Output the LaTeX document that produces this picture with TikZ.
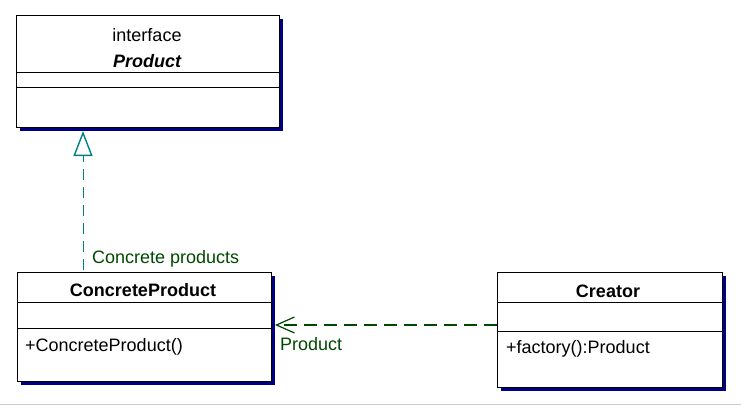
\documentclass[tikz,border=0pt]{standalone}
\usepackage{fontspec}
\setmainfont{Liberation Sans}
\usetikzlibrary{arrows.meta,shadows}
\definecolor{umlnavy}{RGB}{0,0,128}
\definecolor{umlgreen}{RGB}{0,72,0}
\definecolor{umlteal}{RGB}{0,128,128}

\begin{document}
\begin{tikzpicture}[x=1pt,y=-1pt,
  cls/.style={draw, line width=1pt, fill=white, inner sep=0pt, outer sep=0pt, anchor=north west, drop shadow={shadow xshift=4pt, shadow yshift=-4pt, fill=umlnavy, opacity=1}},
  txt/.style={inner sep=0pt, font=\fontsize{18}{21}\selectfont},
  lbl/.style={txt, text=umlgreen, anchor=west}]
  \useasboundingbox (0,0) rectangle (741,407);
  \node[cls, minimum width=263pt, minimum height=112pt] (product) at (16,15) {};
  \draw[line width=1pt] (16,72) -- (279,72); \draw[line width=1pt] (16,87) -- (279,87);
  \node[txt] (prodst) at (147,35) {interface}; \node[txt, font=\fontsize{18}{21}\selectfont\bfseries\itshape] (prodname) at (147,61) {Product};
  \node[cls, minimum width=254pt, minimum height=109pt] (cprod) at (17,272) {};
  \draw[line width=1pt] (17,302) -- (271,302); \draw[line width=1pt] (17,328) -- (271,328);
  \node[txt, font=\fontsize{18}{21}\selectfont\bfseries] (cprodname) at (143,290) {ConcreteProduct}; \node[txt, anchor=west] (cprodop) at (25,347) {+ConcreteProduct()};
  \node[cls, minimum width=225pt, minimum height=115pt] (creator) at (497,272) {};
  \draw[line width=1pt] (497,302) -- (722,302); \draw[line width=1pt] (497,331) -- (722,331);
  \node[txt, font=\fontsize{18}{21}\selectfont\bfseries] (creatorname) at (608,291) {Creator}; \node[txt, anchor=west] (creatorop) at (506,349) {+factory():Product};
  \coordinate (gen) at (83,270); \draw[umlteal, line width=1pt, dash pattern=on 11pt off 7pt, -{Triangle[open, length=25pt, width=19pt, line width=1.4pt]}, shorten >=4pt] (gen) -- (gen |- product.south);
  \node[lbl] (genlbl) at (92,259) {Concrete products};
  \coordinate (dep) at (497,325); \draw[umlgreen, line width=1.2pt, dash pattern=on 13pt off 7pt, -{Straight Barb[length=18pt, width=16pt]}, shorten >=4pt] (dep) -- (dep -| cprod.east);
  \node[lbl] (deplbl) at (280,344) {Product};
  \draw[gray!40, line width=1pt] (0,404.5) -- (741,404.5);
\end{tikzpicture}
\end{document}
